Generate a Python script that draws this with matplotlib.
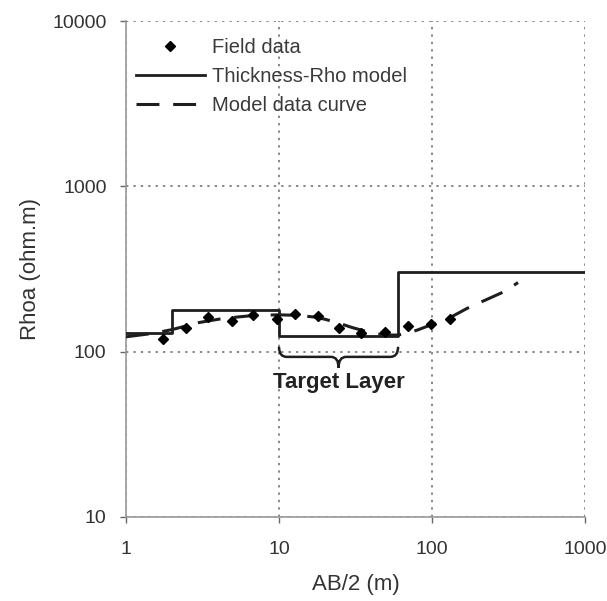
import numpy as np
import matplotlib
matplotlib.use("Agg")
import matplotlib.pyplot as plt
from matplotlib.path import Path
from matplotlib.patches import PathPatch

plt.rcParams['font.family'] = ['Liberation Sans', 'DejaVu Sans']

# Field measurements (AB/2 in m, apparent resistivity in ohm.m)
field_ab2 = [1.75, 2.47, 3.45, 4.91, 6.79, 9.7, 12.7, 17.9, 24.8, 34.2, 49.3, 70, 98, 131]
field_rhoa = [119, 139, 161, 153, 167, 158, 169, 164, 140, 129, 131, 142, 147, 157]

# Layered model: layer boundaries and resistivities
model_bounds = [1, 2, 10, 60, 1000]
model_rho = [129, 179, 124.5, 305]

# Forward model response
curve_ab2 = [1, 1.5, 2, 3, 4, 5, 7, 10, 13, 17, 20, 25, 30, 40, 50, 60, 70, 80,
             100, 130, 170, 200, 250, 300, 365]
curve_rhoa = [123, 129, 136, 150, 157, 161, 166, 167, 166, 162, 157, 148, 140, 130,
              126, 126, 130, 135, 146, 160, 183, 196, 215, 232, 262]

target_top, target_bottom = 10, 60

fig = plt.figure(figsize=(6.07, 6.01), dpi=100)
ax = fig.add_axes([0.2076, 0.1398, 0.7562, 0.8252])

ink = '#1e1e1e'

# step line for the thickness-rho model
step_x = np.repeat(model_bounds, 2)[1:-1]
step_y = np.repeat(model_rho, 2)
ax.plot(step_x, step_y, color=ink, lw=2.0, label='Thickness-Rho model', zorder=3)

ax.plot(curve_ab2, curve_rhoa, color=ink, lw=2.2, dashes=(7.5, 4.5),
        label='Model data curve', zorder=3)

ax.plot(field_ab2, field_rhoa, linestyle='none', marker='D', markersize=5.3,
        color='black', label='Field data', zorder=4)

ax.set_xscale('log')
ax.set_yscale('log')
ax.set_xlim(1, 1000)
ax.set_ylim(10, 10000)
ax.set_xticks([1, 10, 100, 1000])
ax.set_xticklabels(['1', '10', '100', '1000'])
ax.set_yticks([10, 100, 1000, 10000])
ax.set_yticklabels(['10', '100', '1000', '10000'])
ax.minorticks_off()
ax.tick_params(labelsize=14, colors='#666666', length=4, width=1)
ax.tick_params(axis='x', pad=13)
ax.tick_params(axis='y', pad=10)
for lab in ax.get_xticklabels() + ax.get_yticklabels():
    lab.set_color('#333333')

ax.grid(True, which='major', color='#888888', linestyle=(0, (1.2, 2.6)), linewidth=1.4)
for s in ['top', 'right']:
    ax.spines[s].set_visible(False)
for s in ['left', 'bottom']:
    ax.spines[s].set_color('#999999')
    ax.spines[s].set_linewidth(1.2)

ax.set_xlabel('AB/2 (m)', fontsize=16, color='#333333', labelpad=12)
ax.set_ylabel('Rhoa (ohm.m)', fontsize=16, color='#333333', labelpad=8)

# brace under the target layer
xm = np.sqrt(target_top * target_bottom)
k = 10 ** 0.05
y_top, y_mid, y_tip = 107, 93, 80
verts = [(target_top, y_top),
         (target_top, y_mid), (target_top * k, y_mid),
         (xm / k, y_mid),
         (xm, y_mid), (xm, y_tip),
         (xm, y_mid), (xm * k, y_mid),
         (target_bottom / k, y_mid),
         (target_bottom, y_mid), (target_bottom, y_top)]
codes = [Path.MOVETO, Path.CURVE3, Path.CURVE3, Path.LINETO, Path.CURVE3, Path.CURVE3,
         Path.CURVE3, Path.CURVE3, Path.LINETO, Path.CURVE3, Path.CURVE3]
ax.add_patch(PathPatch(Path(verts, codes), fill=False, edgecolor=ink, lw=1.8, zorder=3))
ax.text(xm, 65, 'Target Layer', ha='center', va='center', fontsize=16,
        fontweight='bold', color='#222222')

h, l = ax.get_legend_handles_labels()
order = [2, 0, 1]
ax.legend([h[i] for i in order], [l[i] for i in order], loc='upper left',
          bbox_to_anchor=(-0.004, 0.99), frameon=False, fontsize=14.5,
          handlelength=3.4, handletextpad=0.35, labelspacing=0.5,
          labelcolor='#3a3a3a', borderaxespad=0.2)

fig.savefig('out.png', dpi=100, facecolor='white')
